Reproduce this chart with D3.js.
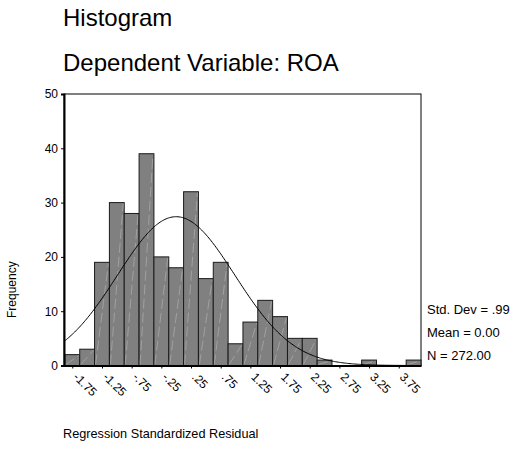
<!DOCTYPE html>
<html>
<head>
<meta charset="utf-8">
<script src="https://cdn.jsdelivr.net/npm/d3@7.9.0/dist/d3.min.js"></script>
<style>
  body { margin: 0; background: #fff; }
  text { font-family: "Liberation Sans", Arial, sans-serif; fill: #000; }
</style>
</head>
<body>
<svg id="chart" width="514" height="451"></svg>
<script>
// histogram data
const binCenters = [-1.75, -1.5, -1.25, -1, -0.75, -0.5, -0.25, 0, 0.25, 0.5, 0.75, 1,
  1.25, 1.5, 1.75, 2, 2.25, 2.5, 2.75, 3, 3.25, 3.5, 3.75, 4];
const frequencies = [2, 3, 19, 30, 28, 39, 20, 18, 32, 16, 19, 4,
  8, 12, 9, 5, 5, 1, 0, 0, 1, 0, 0, 1];
const xTickValues = [-1.75, -1.25, -0.75, -0.25, 0.25, 0.75, 1.25, 1.75, 2.25, 2.75, 3.25, 3.75];
const xTickLabels = ['-1.75', '-1.25', '-.75', '-.25', '.25', '.75', '1.25', '1.75', '2.25', '2.75', '3.25', '3.75'];
const yTickValues = [0, 10, 20, 30, 40, 50];
const statLabels = ['Std. Dev = .99', 'Mean = 0.00', 'N = 272.00'];
const stdDev = 0.99, mean = 0, n = 272, binWidth = 0.25;

const svg = d3.select('#chart');

let x = d3.scaleLinear().domain([-1.89, 4.125]).range([64, 421]);
let y = d3.scaleLinear().domain([0, 50]).range([365.5, 94]);

// titles
svg.append('text').attr('x', 63).attr('y', 26).attr('font-size', 24).text('Histogram');
svg.append('text').attr('x', 63).attr('y', 71).attr('font-size', 24).text('Dependent Variable: ROA');

// frame
svg.append('rect')
  .attr('x', 64).attr('y', 94).attr('width', 357).attr('height', 271.5)
  .attr('fill', 'none').attr('stroke', '#000').attr('stroke-width', 1);

// bars
let bars = svg.append('g');
binCenters.forEach((c, i) => {
  let v = frequencies[i];
  if (v === 0) return;
  let x0 = x(c - binWidth / 2), x1 = x(c + binWidth / 2);
  bars.append('rect')
    .attr('x', x0).attr('y', y(v))
    .attr('width', x1 - x0).attr('height', y(0) - y(v))
    .attr('fill', '#808080').attr('stroke', '#1a1a1a').attr('stroke-width', 1);
  // faint diagonal that SPSS draws inside each bar
  bars.append('line')
    .attr('x1', x0 + 1).attr('y1', y(0) - 1)
    .attr('x2', x1 - 1).attr('y2', y(v) + 1)
    .attr('stroke', '#a8a8a8').attr('stroke-width', 0.8)
    .attr('stroke-dasharray', '10 4');
});

// normal curve from the stats
let pdf = (t) => Math.exp(-0.5 * ((t - mean) / stdDev) ** 2) / (stdDev * Math.sqrt(2 * Math.PI));
let curvePts = d3.range(-1.89, 4.126, 0.02).map((t) => [t, n * binWidth * pdf(t)]);
svg.append('path')
  .attr('d', d3.line().x((d) => x(d[0])).y((d) => y(d[1]))(curvePts))
  .attr('fill', 'none').attr('stroke', '#000').attr('stroke-width', 1);

// y axis
let yAxis = svg.append('g').attr('transform', 'translate(64,0)')
  .call(d3.axisLeft(y).tickValues(yTickValues).tickSize(3).tickPadding(3).tickFormat(d3.format('d')));
yAxis.select('.domain').attr('stroke-width', 2);
yAxis.selectAll('text').attr('font-size', 12).attr('font-family', '"Liberation Sans", Arial, sans-serif');

// x axis
let xAxis = svg.append('g').attr('transform', 'translate(0,365.5)')
  .call(d3.axisBottom(x).tickValues(xTickValues).tickSize(3).tickSizeOuter(0)
    .tickFormat((d, i) => xTickLabels[i]));
xAxis.select('.domain').attr('stroke-width', 2);
xAxis.selectAll('text')
  .attr('font-size', 12).attr('font-family', '"Liberation Sans", Arial, sans-serif')
  .attr('text-anchor', 'start').attr('dy', 0)
  .attr('transform', 'translate(4,8) rotate(45)');

// axis titles
svg.append('text').attr('transform', 'translate(16,318) rotate(-90)')
  .attr('font-size', 12).text('Frequency');
svg.append('text').attr('x', 63).attr('y', 438).attr('font-size', 12.7)
  .text('Regression Standardized Residual');

// stats box
statLabels.forEach((s, i) => {
  svg.append('text').attr('x', 427).attr('y', 314 + i * 23).attr('font-size', 13).text(s);
});
</script>
</body>
</html>
